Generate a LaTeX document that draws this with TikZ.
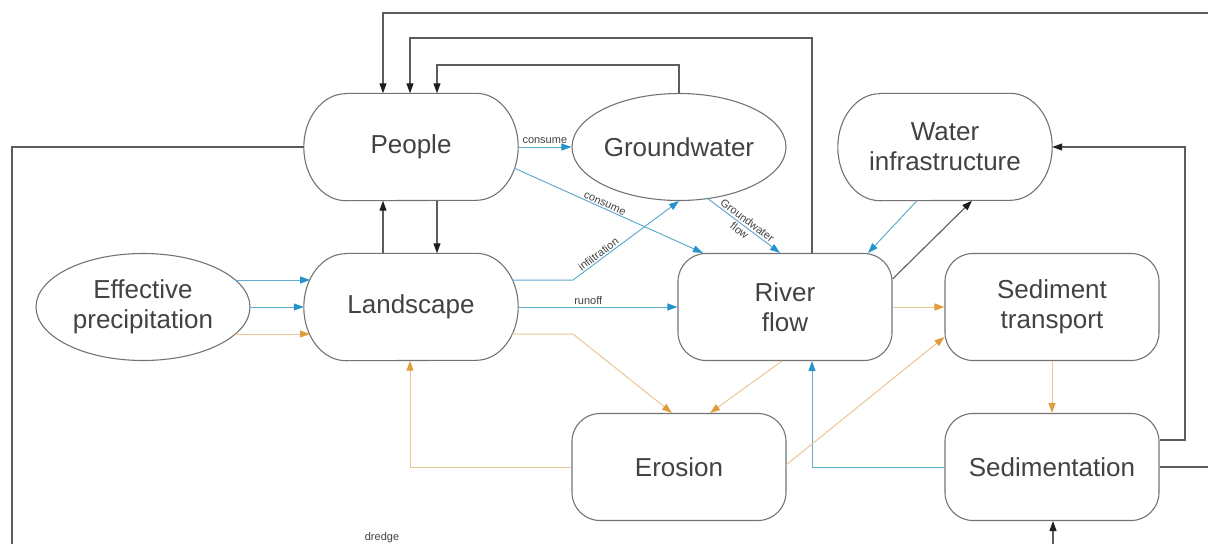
\documentclass[tikz,border=0pt]{standalone}
\usepackage{fontspec}
\setmainfont{Liberation Sans}
\usetikzlibrary{arrows.meta,shapes.geometric}
\definecolor{txt}{RGB}{66,66,66}
\definecolor{edge}{RGB}{115,115,115}
\definecolor{darkln}{RGB}{92,92,92}
\definecolor{darktip}{RGB}{30,30,30}
\definecolor{blueln}{RGB}{98,172,204}
\definecolor{bluetip}{RGB}{38,148,204}
\definecolor{orln}{RGB}{236,198,146}
\definecolor{ortip}{RGB}{222,158,62}
\begin{document}
\begin{tikzpicture}[x=1pt,y=-1pt,
  base/.style={inner sep=0pt, minimum width=214pt, minimum height=107pt,
    align=center, text=txt, font=\fontsize{26}{30}\selectfont},
  roundbox/.style={base, rectangle, rounded corners=28pt, draw=edge, line width=1.1pt},
  oval/.style={base, ellipse, draw=edge, line width=1.1pt},
  stadium/.style={base, rectangle},
  outline/.style={draw=edge, line width=1.1pt},
  dark/.style={draw=darkln, line width=1.1pt},
  darkarrow/.style={dark, -{Triangle[length=10pt,width=7pt,color=darktip]}},
  flowblue/.style={draw=blueln, line width=1pt, -{Triangle[length=10pt,width=7pt,color=bluetip]}},
  flowsed/.style={draw=orln, line width=1pt, -{Triangle[length=10pt,width=7pt,color=ortip]}},
  lab/.style={font=\fontsize{11}{13}\selectfont, text=txt, inner sep=1pt, align=center}]
\useasboundingbox (0,0) rectangle (1208,544);

% ---- nodes ----
\node[stadium]  (people)  at (411,147) {People};
\node[oval]     (ground)  at (679,147) {Groundwater};
\node[stadium]  (infra)   at (945,147) {Water\\infrastructure};
\node[oval]     (precip)  at (143,307) {Effective\\precipitation};
\node[stadium]  (land)    at (411,307) {Landscape};
\node[roundbox] (river)   at (785,307) {River\\flow};
\node[roundbox] (sedtr)   at (1052,307) {Sediment\\transport};
\node[roundbox] (erosion) at (679,467) {Erosion};
\node[roundbox] (sedim)   at (1052,467) {Sedimentation};

% stadium outlines with elliptic ends
\foreach \n in {people,land,infra}
  \draw[outline] ([xshift=42pt]\n.north west) -- ([xshift=-42pt]\n.north east)
    arc[start angle=90, end angle=-90, x radius=42pt, y radius=53.5pt]
    -- ([xshift=42pt]\n.south west)
    arc[start angle=270, end angle=90, x radius=42pt, y radius=53.5pt] -- cycle;

% ---- helper coordinates for routed lines ----
\coordinate (t1) at (1208,13);
\coordinate (t2) at (0,38);
\coordinate (t3) at (0,65);
\coordinate (leftdown) at (12,544);
\coordinate (rightout) at (1208,467);
\coordinate (bottomin) at (1053,544);
\coordinate (bendA) at (573,280);
\coordinate (bendB) at (573,334);
\coordinate (rail) at (1185,0);

% ---- feedback loops into People ----
\draw[darkarrow] (t1) -| ([xshift=-28]people.north);
\draw[darkarrow] ([xshift=27]river.north) -- ([xshift=27]river.north |- t2) -| ([xshift=-1]people.north);
\draw[darkarrow] (ground.north) -- (ground.north |- t3) -| ([xshift=26]people.north);
\draw[dark] (people.west) -| (leftdown);

% People <-> Landscape
\draw[darkarrow] ([xshift=-28]land.north) -- ([xshift=-28]people.south);
\draw[darkarrow] ([xshift=26]people.south) -- ([xshift=26]land.north);

% ---- water flows ----
\draw[flowblue] (people.east) -- node[lab, above=2pt] {consume} (ground.west);
\draw[flowblue] ([shift={(103,21)}]people.center) --
  node[lab, sloped, above, pos=0.47] {consume} ([xshift=-82]river.north);
\draw[flowblue] ([shift={(28,51)}]ground.center) --
  node[lab, sloped, pos=0.5] {Groundwater\\flow} ([xshift=-5]river.north);
\draw[flowblue] ([shift={(101,-27)}]land.center) -- (bendA) --
  node[lab, sloped, above, pos=0.27] {infiltration} (ground.south);
\draw[flowblue] (land.east) -- node[lab, above=1pt, pos=0.44] {runoff} (river.west);
\draw[flowblue] ([shift={(92,-27)}]precip.center) -- ([shift={(-101,-27)}]land.center);
\draw[flowblue] (precip.east) -- (land.west);
\draw[flowblue] ([xshift=-28]infra.south) -- ([xshift=83]river.north);
\draw[flowblue] (sedim.west) -| ([xshift=27]river.south);

% ---- sediment flows ----
\draw[flowsed] ([shift={(92,27)}]precip.center) -- ([shift={(-101,27)}]land.center);
\draw[flowsed] ([shift={(101,27)}]land.center) -- (bendB) -- ([xshift=-7]erosion.north);
\draw[flowsed] ([xshift=-3]river.south) -- ([xshift=31]erosion.north);
\draw[flowsed] ([shift={(107,-2)}]erosion.center) -- ([shift={(0,30)}]sedtr.west);
\draw[flowsed] (river.east) -- (sedtr.west);
\draw[flowsed] (sedtr.south) -- (sedim.north);
\draw[flowsed] (erosion.west) -| ([xshift=-1]land.south);

% ---- infrastructure and sedimentation links ----
\draw[darkarrow] ([shift={(0,-28)}]river.east) -- ([xshift=27]infra.south);
\draw[darkarrow] ([shift={(0,-27)}]sedim.east) -- ([shift={(0,-27)}]sedim.east -| rail) |- (infra.east);
\draw[dark] (sedim.east) -- (rightout);
\draw[darkarrow] (bottomin) -- ([xshift=1]sedim.south);

\node[lab] (dredge) at (382,538) {dredge};
\end{tikzpicture}
\end{document}
